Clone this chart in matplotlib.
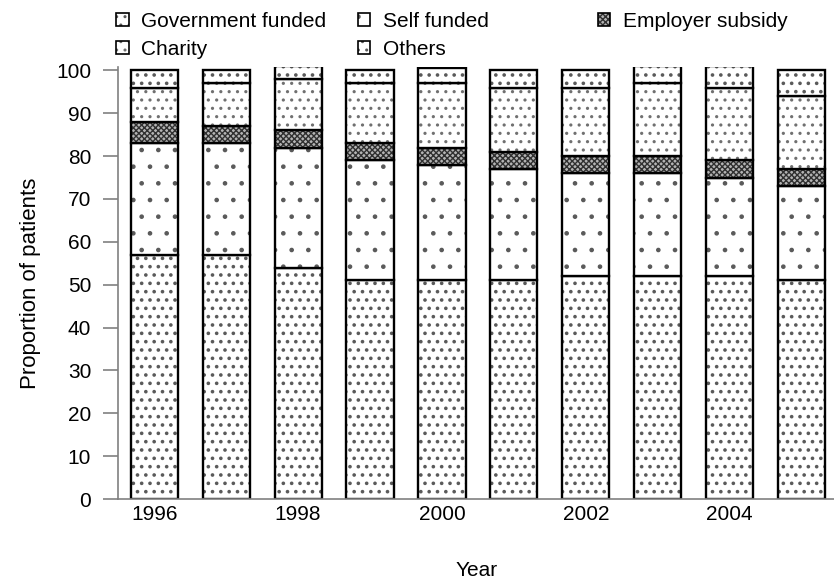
import numpy as np
import matplotlib
matplotlib.use("Agg")
import matplotlib.pyplot as plt
from matplotlib.patches import Patch
from matplotlib.legend_handler import HandlerTuple

# Datos (porcentaje de pacientes por fuente de financiacion)
years = [1996, 1997, 1998, 1999, 2000, 2001, 2002, 2003, 2004, 2005]
gov = [57, 57, 54, 51, 51, 51, 52, 52, 52, 51]
self_funded = [26, 26, 28, 28, 27, 26, 24, 24, 23, 22]
employer = [5, 4, 4, 4, 4, 4, 4, 4, 4, 4]
charity = [8, 10, 12, 14, 15, 15, 16, 17, 17, 17]
others = [4, 3, 3, 3, 3.5, 4, 4, 4, 5, 6]
tick_years = [1996, 1998, 2000, 2002, 2004]

names = ["Government funded", "Self funded", "Employer subsidy", "Charity", "Others"]
series = [gov, self_funded, employer, charity, others]
hatches = ["..", ".", "xxxxxx", "..", ".."]
faces = ["white", "white", "#b4b4b4", "white", "white"]
hcols = ["#5a5a5a", "#5a5a5a", "#303030", "#707070", "#5a5a5a"]
hlws = [1.4, 0.9, 1.0, 1.1, 1.4]

plt.rcParams["font.family"] = ["Liberation Sans", "DejaVu Sans"]
plt.rcParams["font.size"] = 15

fig = plt.figure(figsize=(8.34, 5.85), dpi=100)
ax = fig.add_axes([0.1418, 0.147, 0.86, 0.7385])

x = np.arange(len(years))
width = 0.655
bottom = np.zeros(len(years))
handles = []
for name, vals, h, fc, hc, hl in zip(names, series, hatches, faces, hcols, hlws):
    vals = np.array(vals, dtype=float)
    with plt.rc_context({"hatch.linewidth": hl}):
        # primero el relleno con trama, luego el borde negro
        ax.bar(x, vals, width, bottom=bottom, color=fc, edgecolor=hc, hatch=h, linewidth=0)
        hp = Patch(facecolor=fc, edgecolor=hc, hatch=h, linewidth=0)
    ax.bar(x, vals, width, bottom=bottom, fill=False, edgecolor="black", linewidth=1.7)
    bottom += vals
    handles.append((hp, Patch(fill=False, edgecolor="black", linewidth=1.2)))

ax.set_xlim(-0.5, 9.47)
ax.set_ylim(0, 100.8)
ax.set_yticks(range(0, 101, 10))
ax.set_xticks([years.index(t) for t in tick_years])
ax.set_xticklabels([str(t) for t in tick_years])
ax.tick_params(axis="x", length=0, pad=4)
ax.tick_params(axis="y", length=11, width=1.2, color="#808080", pad=8.5)
for s in ["top", "right"]:
    ax.spines[s].set_visible(False)
for s in ["left", "bottom"]:
    ax.spines[s].set_color("#808080")
    ax.spines[s].set_linewidth(1.2)

ax.set_ylabel("Proportion of patients", fontsize=16, labelpad=11)
ax.set_xlabel("Year", labelpad=27)

hmap = {tuple: HandlerTuple(ndivide=1)}
order = [0, 3, 1, 4]
leg1 = fig.legend([handles[i] for i in order], [names[i] for i in order],
                  ncol=2, loc="upper left", bbox_to_anchor=(0.1395, 0.9795),
                  frameon=False, borderpad=0, borderaxespad=0,
                  handlelength=0.6, handleheight=0.6, handletextpad=0.6,
                  columnspacing=1.5, labelspacing=0.42, handler_map=hmap)
leg2 = fig.legend([handles[2]], [names[2]], loc="upper left",
                  bbox_to_anchor=(0.7165, 0.9795), frameon=False, borderpad=0,
                  borderaxespad=0, handlelength=0.6, handleheight=0.6,
                  handletextpad=0.6, handler_map=hmap)

fig.savefig("out.png", dpi=100)
